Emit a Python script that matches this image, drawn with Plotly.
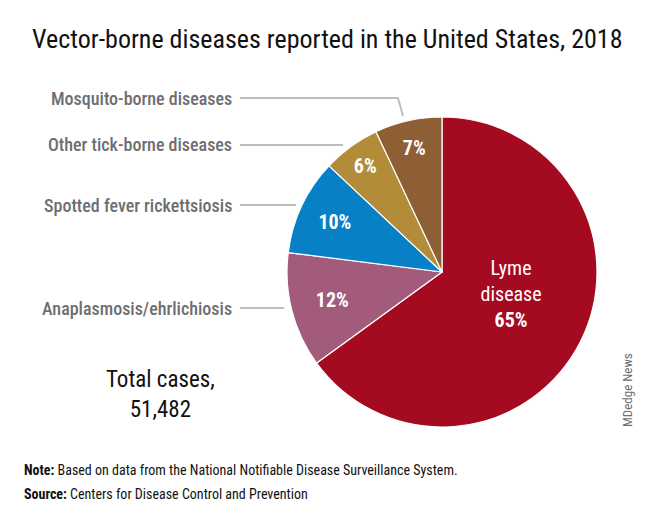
import plotly.graph_objects as go

categories = ["Lyme disease", "Anaplasmosis/ehrlichiosis", "Spotted fever rickettsiosis",
              "Other tick-borne diseases", "Mosquito-borne diseases"]
shares = [65, 12, 10, 6, 7]
colors = ["#A50B20", "#A25B7B", "#0880C6", "#B28C39", "#8E5E35"]
slice_text = ["Lyme<br>disease<br><b>65%</b><br> ", "<b>12%</b>", "<b>10%</b>", "<b>6%</b>", "<b>7%</b>"]
total_cases = "51,482"

FONT = "Roboto Condensed, Liberation Sans Narrow, sans-serif"
W, H = 640, 520
OFF = 8  # page body margin


def px(x):
    return (x - OFF) / W


def py(y):
    return 1 - (y - OFF) / H


# pie geometry in reference pixels
cx, cy, r = 442, 272, 155

fig = go.Figure()
fig.add_trace(go.Pie(
    labels=categories, values=shares, sort=False, direction="clockwise", rotation=0,
    marker=dict(colors=colors, line=dict(color="white", width=1.2)),
    text=slice_text, texttemplate="%{text}", textposition="inside",
    insidetextorientation="horizontal",
    textfont=dict(family=FONT, size=20, color="white"),
    domain=dict(x=[px(cx - r), px(cx + r)], y=[py(cy + r), py(cy - r)]),
    showlegend=False, hoverinfo="label+percent",
))

annotations = []
shapes = []
leaders = [
    ("Mosquito-borne diseases", 98, 398, (403, 116)),
    ("Other tick-borne diseases", 145, 343, None),
    ("Spotted fever rickettsiosis", 205, 296, None),
    ("Anaplasmosis/ehrlichiosis", 308, 284, None),
]
for lab, ly, lx, bend in leaders:
    annotations.append(dict(x=px(234), y=py(ly), xref="paper", yref="paper", text=lab,
                            showarrow=False, xanchor="right", yanchor="middle",
                            font=dict(family=FONT, size=18, color="#6D6E71", weight=500)))
    path = f"M {px(240)} {py(ly)} L {px(lx)} {py(ly)}"
    if bend:
        path += f" L {px(bend[0])} {py(bend[1])}"
    shapes.append(dict(type="path", path=path, xref="paper", yref="paper",
                       line=dict(color="#BDBEC0", width=2)))

annotations += [
    dict(x=px(30), y=py(39), xref="paper", yref="paper",
         text="Vector-borne diseases reported in the United States, 2018",
         showarrow=False, xanchor="left", yanchor="middle",
         font=dict(family=FONT, size=26, color="#111111")),
    dict(x=px(160), y=py(394), xref="paper", yref="paper", text="Total cases,<br>" + total_cases,
         showarrow=False, xanchor="center", yanchor="middle", align="center",
         font=dict(family=FONT, size=23, color="#111111")),
    dict(x=px(22), y=py(470), xref="paper", yref="paper",
         text="<b>Note:</b> Based on data from the National Notifiable Disease Surveillance System.",
         showarrow=False, xanchor="left", yanchor="middle",
         font=dict(family=FONT, size=14, color="#111111")),
    dict(x=px(22), y=py(494), xref="paper", yref="paper",
         text="<b>Source:</b> Centers for Disease Control and Prevention",
         showarrow=False, xanchor="left", yanchor="middle",
         font=dict(family=FONT, size=14, color="#111111")),
    dict(x=px(627), y=py(390), xref="paper", yref="paper", text="MDedge News", textangle=-90,
         showarrow=False, xanchor="center", yanchor="middle",
         font=dict(family=FONT, size=13, color="#6D6E71")),
]

fig.update_layout(
    width=W, height=H, margin=dict(l=0, r=0, t=0, b=0),
    paper_bgcolor="white", plot_bgcolor="white",
    annotations=annotations, shapes=shapes,
    uniformtext=dict(minsize=20, mode="show"),
)
fig.write_html("out.html")
